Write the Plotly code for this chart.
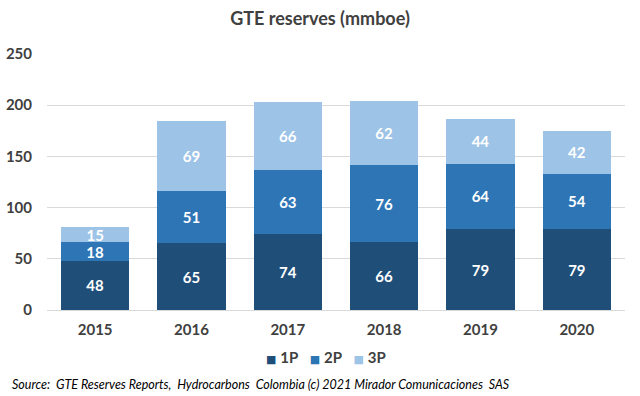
import plotly.graph_objects as go

years = ["2015", "2016", "2017", "2018", "2019", "2020"]
p1 = [48, 65, 74, 66, 79, 79]
p2 = [18, 51, 63, 76, 64, 54]
p3 = [15, 69, 66, 62, 44, 42]
series_names = ["1P", "2P", "3P"]
colors = ["#1F4E79", "#2E75B6", "#9DC3E6"]

FONT = "Lato"
PLOT_W = 640 - 47 - 15
PLOT_H = 396 - 54 - 86
fig = go.Figure()
for name, vals, col in zip(series_names, [p1, p2, p3], colors):
    fig.add_trace(go.Bar(
        x=years, y=vals, name=name, marker=dict(color=col, line=dict(width=0)),
        text=[str(v) for v in vals], textposition="inside", insidetextanchor="middle",
        textangle=0, constraintext="none",
        textfont=dict(family=FONT, size=15, color="white", weight="bold"),
        hoverinfo="skip", showlegend=False,
    ))

fig.update_layout(
    barmode="stack", bargap=0.29,
    width=640, height=396,
    margin=dict(l=47, r=15, t=54, b=86, autoexpand=False),
    paper_bgcolor="white", plot_bgcolor="white",
    font=dict(family=FONT, color="#404040"),
    title=dict(text="<b>GTE reserves (mmboe)</b>", x=0.5, xref="container", y=1 - 19 / 396,
               yanchor="middle", font=dict(family=FONT, size=18, color="#404040")),
    yaxis=dict(range=[0, 250], dtick=50, showgrid=True, gridcolor="#D9D9D9", gridwidth=1,
               zeroline=False, showline=False, ticks="", ticklabelstandoff=14,
               tickfont=dict(family=FONT, size=15, color="#404040", weight="bold")),
    xaxis=dict(showline=True, linecolor="#D9D9D9", ticks="", ticklabelstandoff=6,
               tickfont=dict(family=FONT, size=15, color="#404040", weight="bold")),
    showlegend=False,
)

# compact legend (square swatch + bold label) like the reference
legend_parts = [
    f"<span style='color:{c};font-size:11px;font-family:DejaVu Sans'>■</span>&nbsp;<b>{n}</b>"
    for n, c in zip(series_names, colors)
]
fig.add_annotation(
    text="&nbsp;&nbsp;&nbsp;".join(legend_parts),
    xref="paper", yref="paper", x=(326 - 47) / PLOT_W, y=-(357 - 310) / PLOT_H,
    xanchor="center", yanchor="middle", showarrow=False,
    font=dict(family=FONT, size=15, color="#404040"),
)
fig.add_annotation(
    text="<i>Source:  GTE Reserves Reports,  Hydrocarbons  Colombia (c) 2021 Mirador Comunicaciones  SAS</i>",
    xref="paper", yref="paper", x=(10 - 47) / PLOT_W, y=-(384 - 310) / PLOT_H,
    xanchor="left", yanchor="middle", showarrow=False,
    font=dict(family=FONT, size=12.5, color="#000000"),
)
fig.write_html("out.html", config={"displayModeBar": False},
               post_script="document.body.style.margin='0px';")
